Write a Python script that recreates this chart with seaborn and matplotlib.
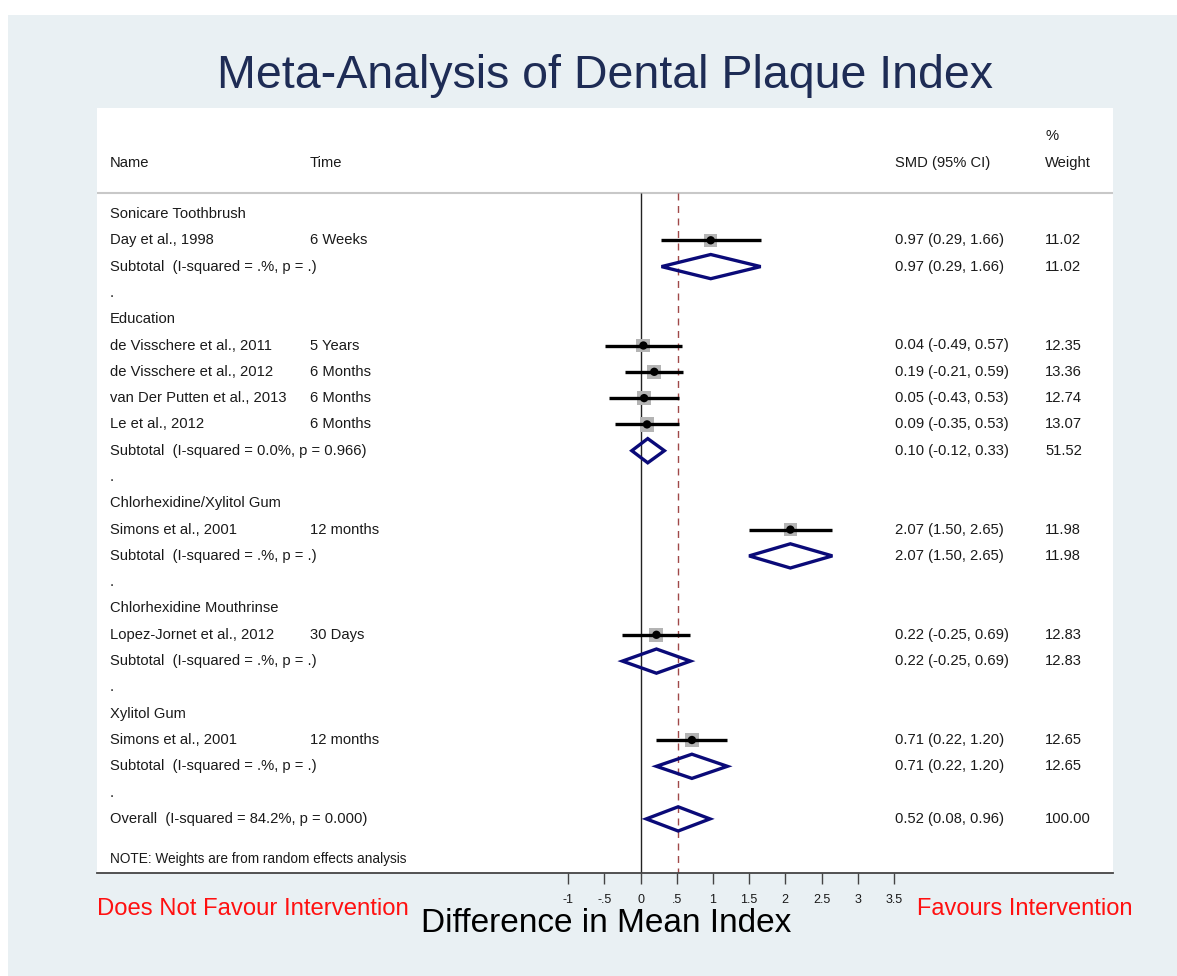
import numpy as np
import pandas as pd
import matplotlib
matplotlib.use("Agg")
import matplotlib.pyplot as plt
from matplotlib.patches import Polygon, Rectangle
import seaborn as sns

# ---------------- data ----------------
group_names = ["Sonicare Toothbrush", "Education", "Chlorhexidine/Xylitol Gum",
               "Chlorhexidine Mouthrinse", "Xylitol Gum"]

study_names = ["Day et al., 1998",
               "de Visschere et al., 2011", "de Visschere et al., 2012",
               "van Der Putten et al., 2013", "Le et al., 2012",
               "Simons et al., 2001",
               "Lopez-Jornet et al., 2012",
               "Simons et al., 2001"]
study_times = ["6 Weeks", "5 Years", "6 Months", "6 Months", "6 Months",
               "12 months", "30 Days", "12 months"]
study_group = [0, 1, 1, 1, 1, 2, 3, 4]
study_smd = [0.97, 0.04, 0.19, 0.05, 0.09, 2.07, 0.22, 0.71]
study_lo = [0.29, -0.49, -0.21, -0.43, -0.35, 1.50, -0.25, 0.22]
study_hi = [1.66, 0.57, 0.59, 0.53, 0.53, 2.65, 0.69, 1.20]
study_weight = [11.02, 12.35, 13.36, 12.74, 13.07, 11.98, 12.83, 12.65]

sub_labels = ["Subtotal  (I-squared = .%, p = .)",
              "Subtotal  (I-squared = 0.0%, p = 0.966)",
              "Subtotal  (I-squared = .%, p = .)",
              "Subtotal  (I-squared = .%, p = .)",
              "Subtotal  (I-squared = .%, p = .)"]
sub_smd = [0.97, 0.10, 2.07, 0.22, 0.71]
sub_lo = [0.29, -0.12, 1.50, -0.25, 0.22]
sub_hi = [1.66, 0.33, 2.65, 0.69, 1.20]
sub_weight = [11.02, 51.52, 11.98, 12.83, 12.65]

overall_label = "Overall  (I-squared = 84.2%, p = 0.000)"
overall_smd = 0.52
overall_lo = 0.08
overall_hi = 0.96
overall_weight = 100.00

tick_values = [-1, -0.5, 0, 0.5, 1, 1.5, 2, 2.5, 3, 3.5]
tick_labels = ["-1", "-.5", "0", ".5", "1", "1.5", "2", "2.5", "3", "3.5"]

# ---------------- style ----------------
sns.set_theme(style="white")
plt.rcParams["font.family"] = ["Liberation Sans", "DejaVu Sans"]

W, H = 1177, 976
fig = plt.figure(figsize=(W / 100, H / 100), dpi=100)
fig.patch.set_facecolor("white")
BG = "#e9f0f3"
fig.add_artist(Rectangle((8 / W, 0), 1 - 8 / W, 1 - 15 / H, transform=fig.transFigure,
                         facecolor=BG, edgecolor="none", zorder=-10))

ax_l, ax_r, ax_t, ax_b = 97, 1113, 108, 873
ax = fig.add_axes([ax_l / W, 1 - ax_b / H, (ax_r - ax_l) / W, (ax_b - ax_t) / H])
ax.set_facecolor("white")

px_per_unit = 72.4
x0_px = 640.5
ax.set_xlim((ax_l - x0_px) / px_per_unit, (ax_r - x0_px) / px_per_unit)
row0_px = 214
row_step = 26.3
ax.set_ylim((ax_b - row0_px) / row_step, (ax_t - row0_px) / row_step)

# ---------------- layout of rows ----------------
rows_text = []  # (row, name, time, smd_text, weight_text)
study_rows = []
sub_rows = []
r = 0
for g, gname in enumerate(group_names):
    rows_text.append((r, gname, "", "", ""))
    r += 1
    for i in range(len(study_names)):
        if study_group[i] == g:
            study_rows.append(r)
            rows_text.append((r, study_names[i], study_times[i],
                              f"{study_smd[i]:.2f} ({study_lo[i]:.2f}, {study_hi[i]:.2f})",
                              f"{study_weight[i]:.2f}"))
            r += 1
    sub_rows.append(r)
    rows_text.append((r, sub_labels[g], "",
                      f"{sub_smd[g]:.2f} ({sub_lo[g]:.2f}, {sub_hi[g]:.2f})",
                      f"{sub_weight[g]:.2f}"))
    r += 1
    rows_text.append((r, ".", "", "", ""))
    r += 1
overall_row = r
rows_text.append((r, overall_label, "",
                  f"{overall_smd:.2f} ({overall_lo:.2f}, {overall_hi:.2f})",
                  f"{overall_weight:.2f}"))
note_row = r + 1.52

# ---------------- reference lines ----------------
sep_row = (193 - row0_px) / row_step
ybot = ax.get_ylim()[0]
ax.axhline(sep_row, color="#c8c8c8", lw=1.5, zorder=1)
ax.vlines(0, sep_row, ybot, color="#222222", lw=1.0, zorder=1)
ax.vlines(overall_smd, sep_row, ybot, color="#a04848", lw=1.0,
          linestyles=(0, (5, 4)), zorder=1)

# ---------------- study CIs and points ----------------
ax.hlines(study_rows, study_lo, study_hi, color="black", lw=2.4, zorder=3)
df = pd.DataFrame({"smd": study_smd, "row": study_rows, "w": study_weight})
sns.scatterplot(data=df, x="smd", y="row", marker="s", s=df["w"] * 8.0,
                color="#b4b4b4", edgecolor="none", ax=ax, legend=False, zorder=2)
sns.scatterplot(data=df, x="smd", y="row", marker="o", s=36,
                color="black", edgecolor="none", ax=ax, legend=False, zorder=4)
ax.set_xlabel("")
ax.set_ylabel("")

# ---------------- diamonds ----------------
dh = 0.46
def diamond(est, lo, hi, row):
    poly = Polygon([(lo, row), (est, row - dh), (hi, row), (est, row + dh)],
                   closed=True, facecolor="none", edgecolor="#0a0a78", lw=2.4, zorder=3)
    ax.add_patch(poly)

for g in range(len(group_names)):
    diamond(sub_smd[g], sub_lo[g], sub_hi[g], sub_rows[g])
diamond(overall_smd, overall_lo, overall_hi, overall_row)

# ---------------- text columns ----------------
col_name = (110 - ax_l) / (ax_r - ax_l)
col_time = (310 - ax_l) / (ax_r - ax_l)
col_smd = (895 - ax_l) / (ax_r - ax_l)
col_w = (1045 - ax_l) / (ax_r - ax_l)
trans = ax.get_yaxis_transform()  # x in axes, y in data
fs = 10.6
tc = "#1a1a1a"
for (rr, name, time, smdt, wt) in rows_text:
    ax.text(col_name, rr, name, transform=trans, ha="left", va="center", fontsize=fs, color=tc)
    if time:
        ax.text(col_time, rr, time, transform=trans, ha="left", va="center", fontsize=fs, color=tc)
    if smdt:
        ax.text(col_smd, rr, smdt, transform=trans, ha="left", va="center", fontsize=fs, color=tc)
    if wt:
        ax.text(col_w, rr, wt, transform=trans, ha="left", va="center", fontsize=fs, color=tc)

hdr_row = (163 - row0_px) / row_step
pct_row = (136 - row0_px) / row_step
ax.text(col_name, hdr_row, "Name", transform=trans, ha="left", va="center", fontsize=fs, color=tc)
ax.text(col_time, hdr_row, "Time", transform=trans, ha="left", va="center", fontsize=fs, color=tc)
ax.text(col_smd, hdr_row, "SMD (95% CI)", transform=trans, ha="left", va="center", fontsize=fs, color=tc)
ax.text(col_w, hdr_row, "Weight", transform=trans, ha="left", va="center", fontsize=fs, color=tc)
ax.text(col_w, pct_row, "%", transform=trans, ha="left", va="center", fontsize=fs, color=tc)
ax.text(col_name, note_row, "NOTE: Weights are from random effects analysis",
        transform=trans, ha="left", va="center", fontsize=fs - 0.8, color=tc)

# ---------------- axes styling ----------------
for s in ["left", "right", "top"]:
    ax.spines[s].set_visible(False)
ax.spines["bottom"].set_color("#444444")
ax.spines["bottom"].set_linewidth(1.3)
ax.set_yticks([])
ax.set_xticks(tick_values)
ax.set_xticklabels(tick_labels)
ax.tick_params(axis="x", direction="out", length=8, width=1.0, color="#444444",
               labelsize=9, labelcolor="#1a1a1a", pad=7, bottom=True)
ax.grid(False)

# ---------------- figure texts ----------------
fig.text(605 / W, 1 - 76 / H, "Meta-Analysis of Dental Plaque Index", ha="center", va="center",
         fontsize=33.5, color="#1e2c55")
fig.text(606 / W, 1 - 924 / H, "Difference in Mean Index", ha="center", va="center",
         fontsize=24, color="black")
fig.text(97 / W, 1 - 909 / H, "Does Not Favour Intervention", ha="left", va="center",
         fontsize=17.2, color="#ff1010")
fig.text(917 / W, 1 - 909 / H, "Favours Intervention", ha="left", va="center",
         fontsize=17.0, color="#ff1010")

fig.savefig("out.png", dpi=100, facecolor=fig.get_facecolor())
